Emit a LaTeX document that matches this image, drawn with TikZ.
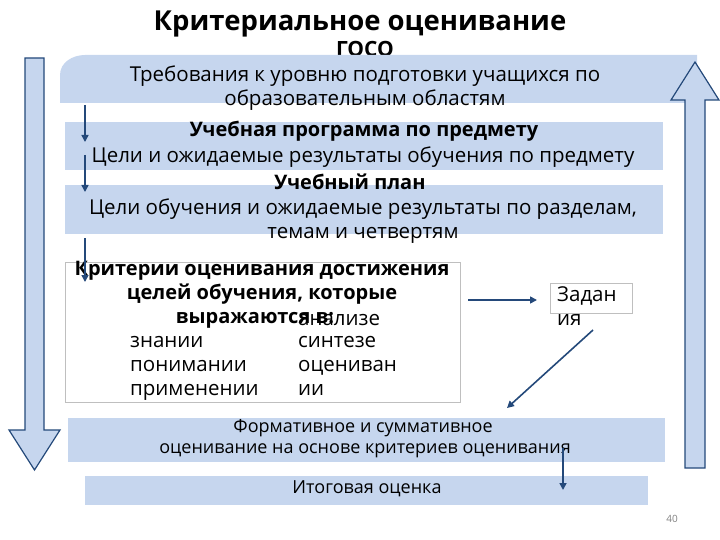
\documentclass[tikz,border=0pt]{standalone}
\usepackage{fontspec}
\setmainfont{Open Sans}
\usetikzlibrary{arrows.meta}
\definecolor{lb}{HTML}{C6D6EE}
\definecolor{ab}{HTML}{24497A}
\begin{document}
\begin{tikzpicture}[x=1pt,y=-1pt,
  every node/.append style={text height=0.72em,text depth=0.22em},
  txt/.style={inner sep=0pt,font=\fontsize{20.5}{24}\selectfont},
  btxt/.style={inner sep=0pt,font=\fontsize{20}{24}\selectfont\bfseries},
  stxt/.style={inner sep=0pt,font=\fontsize{18}{22}\selectfont},
  arr/.style={draw=ab,line width=1.6pt,-{Triangle[length=7pt,width=7pt]}}]
\useasboundingbox (0,0) rectangle (720,540);
\node[inner sep=0pt,font=\fontsize{27.5}{30}\selectfont\bfseries] (title) at (360,28) {Критериальное оценивание};
\node[inner sep=0pt,font=\fontsize{21}{24}\selectfont\bfseries] (goso) at (365,54) {ГОСО};
% top band
\fill[lb] (60,103) -- (60,75) to[out=90,in=180] (85,55) -- (697,55) -- (697,103) -- cycle;
\node[txt] (t1) at (365,79) {Требования к уровню подготовки учащихся по};
\node[txt] (t2) at (365,103) {образовательным областям};
% band 2
\fill[lb] (65,122) rectangle (663,170);
\node[btxt] (p1) at (364,134) {Учебная программа по предмету};
\node[txt] (p2) at (363,160) {Цели и ожидаемые результаты обучения по предмету};
% band 3
\fill[lb] (65,185) rectangle (663,234);
\node[btxt] (u1) at (350,187) {Учебный план};
\node[txt] (u2) at (363,212) {Цели обучения и ожидаемые результаты по разделам,};
\node[txt] (u3) at (363,236) {темам и четвертям};
% criteria box
\draw[gray!50,line width=1pt,fill=white] (65,262) rectangle (460,402);
\node[btxt] (c1) at (262,273) {Критерии оценивания достижения};
\node[btxt] (c2) at (262,297) {целей обучения, которые};
\node[btxt] (c3) at (255,321) {выражаются в:};
\node[txt,anchor=west] (c4) at (298,323) {анализе};
\node[txt,anchor=west] (k1) at (130,345) {знании};
\node[txt,anchor=west] (k2) at (130,369) {понимании};
\node[txt,anchor=west] (k3) at (130,393) {применении};
\node[txt,anchor=west] (k4) at (298,345) {синтезе};
\node[txt,anchor=west] (k5) at (298,369) {оцениван};
\node[txt,anchor=west] (k6) at (298,393) {ии};
% tasks
\draw[gray!50,line width=1pt] (550,283) rectangle (632,313);
\node[txt,anchor=west] (z1) at (557,299) {Задан};
\node[txt,anchor=west] (z2) at (557,323) {ия};
% formative
\fill[lb] (68,418) rectangle (665,462);
\node[stxt] (f1) at (363,430) {Формативное и суммативное};
\node[stxt] (f2) at (365,451) {оценивание на основе критериев оценивания};
% final
\fill[lb] (85,476) rectangle (648,505);
\node[stxt] (fin) at (367,491) {Итоговая оценка};
\node[inner sep=0pt,font=\fontsize{10}{12}\selectfont,text=gray] (pg) at (672,520) {40};
% big arrows
\draw[ab,line width=1.2pt,fill=lb] (25,58) -- (44,58) -- (44,430) -- (60,430) -- (34.5,470) -- (9,430) -- (25,430) -- cycle;
\draw[ab,line width=1.2pt,fill=lb] (685,468) -- (705,468) -- (705,100) -- (719,100) -- (695,62) -- (671,100) -- (685,100) -- cycle;
% small arrows
\coordinate (a1) at (85,105); \coordinate (a1e) at (85,142);
\coordinate (a2) at (85,155); \coordinate (a2e) at (85,192);
\coordinate (a3) at (85,238); \coordinate (a3e) at (85,282);
\coordinate (h1) at (468,300); \coordinate (h1e) at (537,300);
\coordinate (d1) at (593,330); \coordinate (d1e) at (507,408);
\coordinate (v1) at (563,448); \coordinate (v1e) at (563,490);
\draw[arr] (a1) -- (a1e);
\draw[arr] (a2) -- (a2e);
\draw[arr] (a3) -- (a3e);
\draw[arr] (h1) -- (h1e);
\draw[arr] (d1) -- (d1e);
\draw[arr] (v1) -- (v1e);
\end{tikzpicture}
\end{document}
